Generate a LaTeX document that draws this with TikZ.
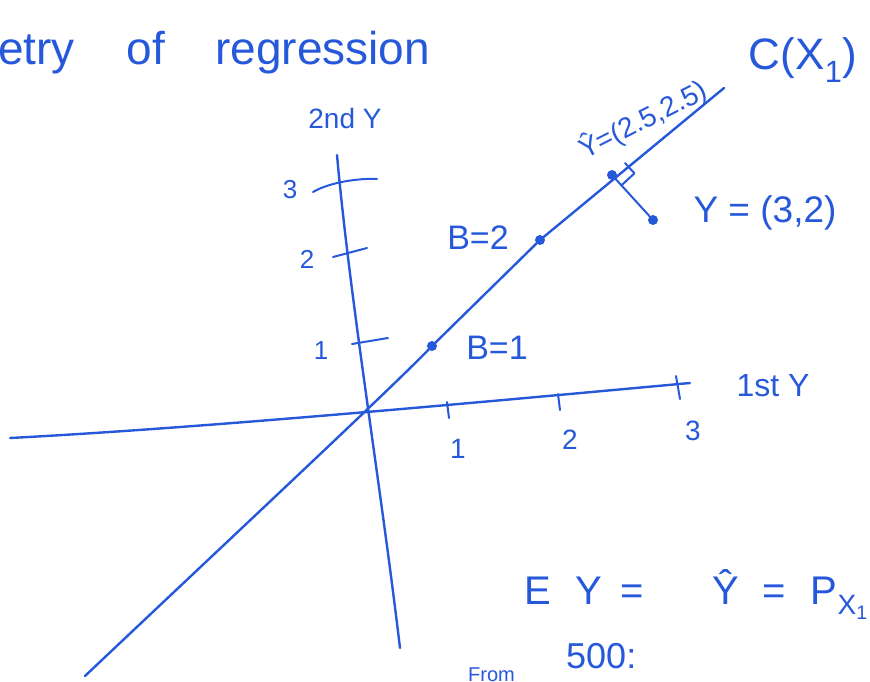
\documentclass[tikz,border=0pt]{standalone}
\usepackage{fontspec}
\setmainfont{Liberation Sans}
\usetikzlibrary{calc}
\definecolor{ink}{RGB}{38,88,218}
\begin{document}
\begin{tikzpicture}[x=1pt,y=-1pt,
  inkline/.style={draw=ink,line width=2.4pt,line cap=round,line join=round},
  thin ink/.style={draw=ink,line width=2pt,line cap=round,line join=round},
  lbl/.style={text=ink,inner sep=0pt,font=\fontsize{26}{28}\selectfont},
  big/.style={text=ink,inner sep=0pt,font=\fontsize{34}{36}\selectfont},
  dotnode/.style={circle,fill=ink,inner sep=0pt,minimum size=10pt}]
\useasboundingbox (0,0) rectangle (870,681);

% title
\node[big,font=\fontsize{46}{48}\selectfont,anchor=base west] (title) at (-2,64) {etry\hspace{52pt}of\hspace{50pt}regression};

% axes
\coordinate (hxL) at (10,438);
\coordinate (hxR) at (690,383);
\coordinate (vyT) at (337,155);
\coordinate (vyB) at (400,648);
\draw[inkline] (hxL) .. controls (200,428) and (450,405) .. (hxR);
\draw[inkline] (vyT) .. controls (350,300) and (380,480) .. (vyB);

% y-axis ticks
\coordinate (t3a) at (313,192); \coordinate (t3b) at (377,179);
\coordinate (t2a) at (333,257); \coordinate (t2b) at (367,248);
\coordinate (t1a) at (352,344); \coordinate (t1b) at (388,338);
\draw[thin ink] (t3a) .. controls (330,182) and (360,178) .. (t3b);
\draw[thin ink] (t2a) -- (t2b);
\draw[thin ink] (t1a) -- (t1b);
\node[lbl] (ly3) at (290,190) {3};
\node[lbl] (ly2) at (307,259) {2};
\node[lbl] (ly1) at (321,351) {1};
\node[lbl,font=\fontsize{28}{30}\selectfont] (ylab) at (345,118) {2nd Y};

% x-axis ticks
\coordinate (s1a) at (447,402); \coordinate (s1b) at (449,418);
\coordinate (s2a) at (558,394); \coordinate (s2b) at (560,410);
\coordinate (s3a) at (676,376); \coordinate (s3b) at (680,399);
\draw[thin ink] (s1a) -- (s1b);
\draw[thin ink] (s2a) -- (s2b);
\draw[thin ink] (s3a) -- (s3b);
\node[lbl,font=\fontsize{28}{30}\selectfont] (lx1) at (458,449) {1};
\node[lbl,font=\fontsize{28}{30}\selectfont] (lx2) at (570,440) {2};
\node[lbl,font=\fontsize{28}{30}\selectfont] (lx3) at (693,431) {3};
\node[lbl,font=\fontsize{32}{34}\selectfont] (xlab) at (773,386) {1st Y};

% regression line C(X1)
\coordinate (cL) at (85,676);
\coordinate (cU) at (724,88);
\draw[inkline] (cL) .. controls (250,520) and (400,380) .. (432,346) -- (540,240) -- (cU);
\node[dotnode] (b1) at (432,346) {};
\node[dotnode] (b2) at (540,240) {};
\node[dotnode] (yhat) at (612,175) {};
\node[dotnode] (ypt) at (653,220) {};
\draw[thin ink] (yhat) -- (ypt);
% right-angle mark
\coordinate (ra1) at ($(yhat)!14pt!(ypt)$);
\coordinate (ra2) at ($(ra1)+(13,-12)$);
\coordinate (ra3) at ($(yhat)+(13,-12)$);
\draw[thin ink] (ra1) -- (ra2) -- (ra3);

\node[lbl,font=\fontsize{34}{36}\selectfont] (lb2) at (478,238) {B=2};
\node[lbl,font=\fontsize{34}{36}\selectfont] (lb1) at (497,348) {B=1};
\node[lbl,font=\fontsize{28}{30}\selectfont,rotate=27] (lyhat) at (643,120) {Ŷ=(2.5,2.5)};
\node[big,font=\fontsize{44}{46}\selectfont] (lc) at (803,60) {C(X\textsubscript{1})};
\node[big,font=\fontsize{37}{39}\selectfont] (lypt) at (765,213) {Y = (3,2)};

% bottom text
\node[big,font=\fontsize{40}{42}\selectfont,anchor=base west] (eq) at (524,604) {E\hspace{25pt}Y\hspace{18pt}=\hspace{69pt}Ŷ\hspace{23pt}=\hspace{25pt}P\textsubscript{X\textsubscript{1}}};
\node[lbl,font=\fontsize{20}{22}\selectfont,anchor=base west] (from) at (468,681) {From};
\node[lbl,font=\fontsize{36}{38}\selectfont,anchor=base west] (five) at (566,668) {500:};
\end{tikzpicture}
\end{document}
